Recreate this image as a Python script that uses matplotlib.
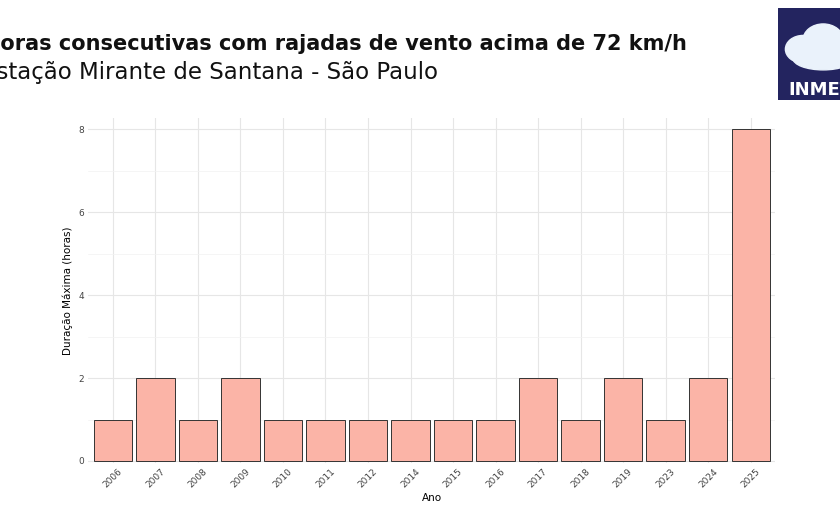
import matplotlib.pyplot as plt
from matplotlib.patches import Rectangle, Ellipse, Wedge

anos = ['2006', '2007', '2008', '2009', '2010', '2011', '2012', '2014',
        '2015', '2016', '2017', '2018', '2019', '2023', '2024', '2025']
duracao = [1, 2, 1, 2, 1, 1, 1, 1, 1, 1, 2, 1, 2, 1, 2, 8]

fig = plt.figure(figsize=(8.4, 5.25), dpi=100)
ax = fig.add_axes([0.105, 0.118, 0.818, 0.657])

x = list(range(len(anos)))
ax.bar(x, duracao, width=0.9, color='#fbb4a7', edgecolor='#333333', linewidth=0.7, zorder=3)
ax.set_xlim(-0.58, 15.58)
ax.set_ylim(-0.05, 8.27)
ax.set_yticks([0, 2, 4, 6, 8])
ax.set_yticks([1, 3, 5, 7], minor=True)
ax.set_xticks(x)
ax.set_xticklabels(anos, rotation=45, fontsize=6.5, color='#444444')
ax.tick_params(axis='y', labelsize=6.5, labelcolor='#444444')
ax.tick_params(which='both', length=0, pad=3)
ax.grid(True, which='major', color='#e6e6e6', linewidth=0.8, zorder=0)
ax.grid(True, which='minor', axis='y', color='#f2f2f2', linewidth=0.5, zorder=0)
for s in ax.spines.values():
    s.set_visible(False)
ax.set_xlabel('Ano', fontsize=7.5, labelpad=2)
ax.set_ylabel('Duração Máxima (horas)', fontsize=7.5)

fig.text(-0.02, 0.905, 'Horas consecutivas com rajadas de vento acima de 72 km/h',
         fontsize=15, fontweight='bold', color='#111111')
fig.text(-0.022, 0.85, 'Estação Mirante de Santana - São Paulo', fontsize=16.5, color='#111111')

# logo
la = fig.add_axes([0.926, 0.81, 0.12, 0.175])
la.set_xlim(0, 1)
la.set_ylim(0, 1)
la.axis('off')
la.add_patch(Rectangle((0, 0), 1, 1, color='#23245f'))
la.add_patch(Wedge((0.85, 0.75), 0.2, 0, 360, color='#f5c400'))
for cx, cy, w, h in [(0.25, 0.55, 0.35, 0.3), (0.45, 0.65, 0.4, 0.35),
                     (0.7, 0.55, 0.4, 0.3), (0.45, 0.45, 0.6, 0.25)]:
    la.add_patch(Ellipse((cx, cy), w, h, color='#eaf2fb'))
la.text(0.1, 0.05, 'INMET', color='white', fontsize=13, fontweight='bold')

fig.savefig('out.png', dpi=100)
